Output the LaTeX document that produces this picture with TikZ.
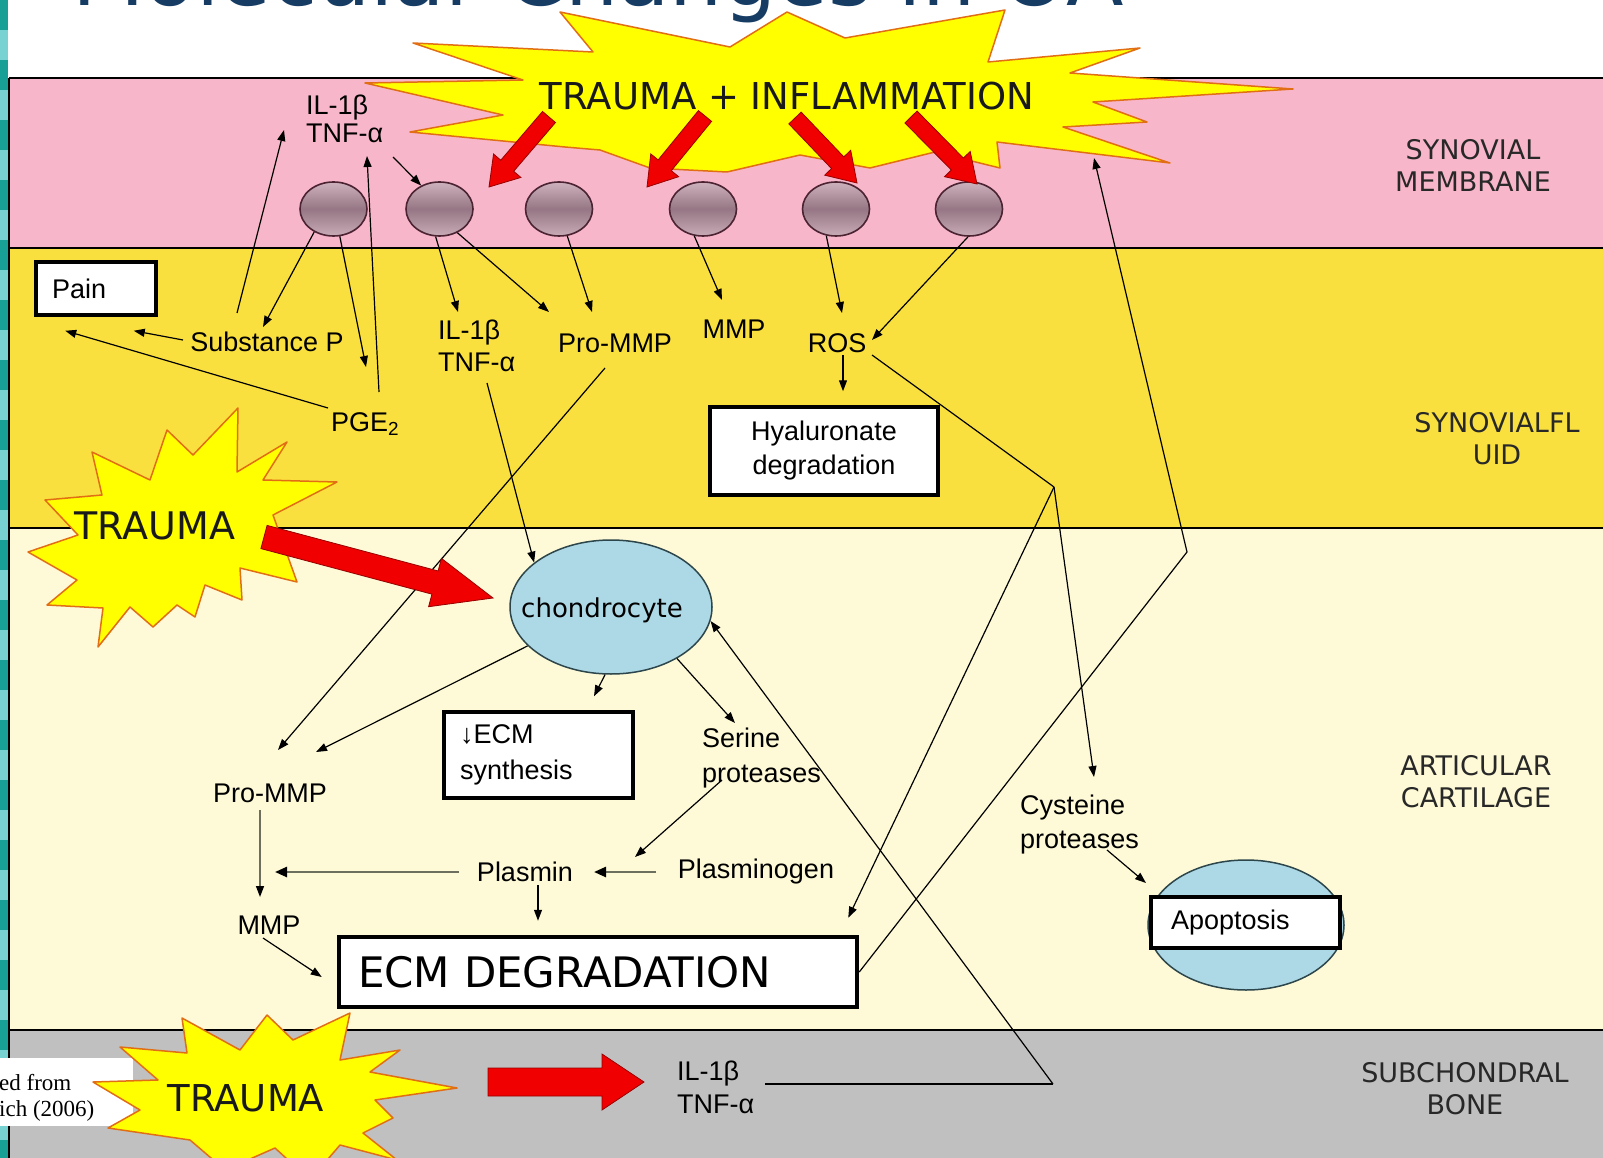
\documentclass[tikz,border=0pt]{standalone}
\usepackage{fontspec}
\setmainfont{Liberation Sans}
\newfontfamily\dejavu{DejaVu Sans}
\newfontfamily\serifA{Liberation Serif}
\usetikzlibrary{arrows.meta,calc,shapes.geometric}

\definecolor{pinkband}{RGB}{248,182,202}
\definecolor{yellowband}{RGB}{250,224,62}
\definecolor{creamband}{RGB}{254,250,215}
\definecolor{grayband}{RGB}{192,192,192}
\definecolor{starfill}{RGB}{255,255,0}
\definecolor{starline}{RGB}{225,110,20}
\definecolor{arrowred}{RGB}{240,0,0}
\definecolor{arrowdark}{RGB}{150,0,0}
\definecolor{cellline}{RGB}{75,35,50}
\definecolor{celltop}{RGB}{205,178,188}
\definecolor{cellmid}{RGB}{150,118,132}
\definecolor{cellbot}{RGB}{200,172,182}
\definecolor{chondfill}{RGB}{173,216,230}
\definecolor{chondline}{RGB}{45,70,75}
\definecolor{titleblue}{RGB}{22,60,100}
\definecolor{tealA}{RGB}{25,160,150}
\definecolor{tealB}{RGB}{120,210,210}
\definecolor{conngray}{RGB}{110,110,95}
\definecolor{regtext}{RGB}{40,40,40}

\newcommand\labfont{\fontsize{27}{28}\selectfont}
\newcommand\regfont{\dejavu\fontsize{27}{32}\selectfont}
\newcommand\blockarrow[5]{%
  \coordinate (ba-h) at ($(#2)!#5!(#1)$);
  \draw[redarrow] ($(#1)!#3!90:(#2)$) -- ($(ba-h)!#3!90:(#2)$) -- ($(ba-h)!#4!90:(#2)$) -- (#2) -- ($(ba-h)!#4!-90:(#2)$) -- ($(ba-h)!#3!-90:(#2)$) -- ($(#1)!#3!-90:(#2)$) -- cycle;}

\begin{document}
\begin{tikzpicture}[x=1pt,y=-1pt,
  lab/.style={font=\labfont, inner sep=2pt},
  lab2/.style={lab, align=left},
  region/.style={font=\regfont, align=center, text=regtext, inner sep=0pt},
  box/.style={draw=black, line width=3.5pt, fill=white, font=\labfont, inner sep=0pt},
  cell/.style={ellipse, minimum width=67pt, minimum height=54pt, inner sep=0pt, draw=cellline, line width=1.6pt, top color=celltop, bottom color=cellbot, middle color=cellmid},
  starstyle/.style={fill=starfill, draw=starline, line width=1.5pt, line join=round},
  redarrow/.style={fill=arrowred, draw=arrowdark, line width=0.8pt, line join=miter},
  conn/.style={draw=black, line width=1.2pt},
  arr/.style={conn, -{Triangle[length=11pt,width=8pt]}},
  garr/.style={draw=conngray, line width=2.4pt, -{Triangle[length=12pt,width=10pt,color=black]}},
  garr2/.style={draw=conngray, line width=1.5pt, -{Triangle[length=11pt,width=8pt,color=black]}},
  bandline/.style={draw=black, line width=1.8pt}]

\useasboundingbox (0,0) rectangle (1603,1158);
\clip (0,0) rectangle (1603,1158);
\fill[white] (0,0) rectangle (1603,1158);

% title (cut off at top, as in the slide)
\node[anchor=base west, inner sep=0pt, font=\dejavu\fontsize{84}{90}\selectfont, text=titleblue] (title) at (72,6) {Molecular Changes in OA};

% bands
\fill[pinkband] (9,78) rectangle (1610,248);
\fill[yellowband] (9,248) rectangle (1610,528);
\fill[creamband] (9,528) rectangle (1610,1030);
\fill[grayband] (9,1030) rectangle (1610,1165);
\draw[bandline] (9,78) -- (1610,78);
\draw[bandline] (9,248) -- (1610,248);
\draw[bandline] (9,528) -- (1610,528);
\draw[bandline] (9,1030) -- (1610,1030);
\draw[bandline] (9,78) -- (9,1165);

% left slide strip
\foreach \i in {0,...,38}{%
  \pgfmathtruncatemacro\m{mod(\i,2)}%
  \ifnum\m=0 \fill[tealA] (0,\i*30) rectangle (8,\i*30+30);
  \else \fill[tealB] (0,\i*30) rectangle (8,\i*30+30); \fi}

% reference note box
\fill[white] (0,1058) rectangle (133,1126);
\node[anchor=west, inner sep=0pt, font=\serifA\fontsize{23}{25}\selectfont] (ref1) at (-1,1083) {ed from};
\node[anchor=west, inner sep=0pt, font=\serifA\fontsize{23}{25}\selectfont] (ref2) at (-1,1111) {ich (2006)};

% top starburst
\draw[starstyle] (413,43) -- (593,52) -- (560,12) -- (730,47) -- (787,12) -- (845,38) -- (1005,10) -- (988,62) -- (1140,48) -- (1070,73) -- (1293,89) -- (1093,102) -- (1147,122) -- (1063,127) -- (1170,163) -- (997,142) -- (1000,168) -- (935,152) -- (870,168) -- (800,155) -- (727,172) -- (650,168) -- (600,150) -- (565,147) -- (410,132) -- (503,115) -- (365,83) -- (523,80) -- cycle;
\node[font=\dejavu\fontsize{37}{40}\selectfont, text=black!90, inner sep=0pt] (ti) at (787,96) {TRAUMA + INFLAMMATION};

% cells in synovial membrane
\node[cell] (c1) at (333.5,209) {};
\node[cell] (c2) at (439.5,209) {};
\node[cell] (c3) at (559,209) {};
\node[cell] (c4) at (703,209) {};
\node[cell] (c5) at (836,209) {};
\node[cell] (c6) at (969,209) {};

% red arrows from the starburst
\coordinate (r1s) at (549,117); \coordinate (r1e) at (489,187);
\coordinate (r2s) at (705,116); \coordinate (r2e) at (647,187);
\coordinate (r3s) at (795,118); \coordinate (r3e) at (857,183);
\coordinate (r4s) at (911,117); \coordinate (r4e) at (977,184);
\blockarrow{r1s}{r1e}{8.5pt}{18pt}{28pt}
\blockarrow{r2s}{r2e}{8.5pt}{18pt}{28pt}
\blockarrow{r3s}{r3e}{8.5pt}{18pt}{28pt}
\blockarrow{r4s}{r4e}{8.5pt}{18pt}{28pt}

% labels
\node[lab2, anchor=west] (IL1m) at (304,119) {IL-1β\\TNF-α};
\node[lab] (subP) at (267,342) {Substance P};
\node[lab, anchor=base west] (PGE) at (329,431) {PGE\textsubscript{2}};
\node[box, minimum width=120pt, minimum height=53pt, text width=88pt, inner xsep=16pt, align=left] (pain) at (96,288.5) {Pain};
\node[lab2, anchor=west, font=\fontsize{27}{32}\selectfont] (IL1y) at (436,346) {IL-1β\\TNF-α};
\node[lab] (proMMPy) at (615,343) {Pro-MMP};
\node[lab] (MMPy) at (734,329) {MMP};
\node[lab] (ROS) at (837,343) {ROS};
\node[box, minimum width=228pt, minimum height=88pt, align=center, font=\fontsize{27}{34}\selectfont] (hyal) at (824,451) {Hyaluronate\\degradation};

\node[ellipse, draw=chondline, line width=1.5pt, fill=chondfill, minimum width=202pt, minimum height=134pt, inner sep=0pt] (chond) at (611,607) {};
\node[inner sep=0pt, font=\dejavu\fontsize{26}{30}\selectfont] (chondtxt) at ([shift={(-9,3)}]chond.center) {chondrocyte};
\node[lab] (proMMPc) at (270,793) {Pro-MMP};
\node[box, minimum width=189pt, minimum height=86pt, text width=157pt, inner xsep=16pt, align=left, font=\fontsize{27}{36}\selectfont] (ecmsyn) at (538.5,755) {↓ECM\\synthesis};
\node[lab2, anchor=west, font=\fontsize{27}{35}\selectfont] (serine) at (700,758) {Serine\\proteases};
\node[lab] (plasmin) at (525,872) {Plasmin};
\node[lab] (plasminogen) at (756,872) {Plasminogen};
\node[lab] (MMPc) at (269,925) {MMP};
\node[box, line width=4.5pt, minimum width=518pt, minimum height=70pt, text width=480pt, inner xsep=19pt, align=left, font=\dejavu\fontsize{42}{46}\selectfont] (ecmdeg) at (598,972) {ECM DEGRADATION};
\node[lab2, anchor=west, font=\fontsize{27}{34}\selectfont] (cyst) at (1018,825) {Cysteine\\proteases};
\node[ellipse, draw=chondline, line width=1.5pt, fill=chondfill, minimum width=196pt, minimum height=130pt, inner sep=0pt] (apop) at (1246,925) {};
\node[box, line width=4.5pt, minimum width=189pt, minimum height=51pt, text width=149pt, inner xsep=20pt, align=left] (apopbox) at (1245.5,922.5) {Apoptosis};
\node[lab2, anchor=west, font=\fontsize{27}{33}\selectfont] (IL1b) at (675,1087) {IL-1β\\TNF-α};

% region labels
\node[region] (rsm) at (1473,165) {SYNOVIAL\\MEMBRANE};
\node[region] (rsf) at (1497,439) {SYNOVIALFL\\UID};
\node[region] (rac) at (1476,782) {ARTICULAR\\CARTILAGE};
\node[region] (rsb) at (1465,1089) {SUBCHONDRAL\\BONE};

% connectors
\draw[arr] ([shift={(-30,-29)}]subP.center) -- ([shift={(-20,11)}]IL1m.west);
\draw[arr] (c1.230) -- ([shift={(-4,-15)}]subP.center);
\draw[arr] (c1.283) -- ([shift={(37,-64)}]PGE.base west);
\draw[arr] ([shift={(50,-39)}]PGE.base west) -- ([shift={(63,37)}]IL1m.west);
\draw[arr] ([shift={(89,38)}]IL1m.west) -- (c2.128);
\draw[arr] (c2.262) -- ([shift={(22,-34)}]IL1y.west);
\draw[arr] (c2.307) -- ([shift={(-66,-31)}]proMMPy.center);
\draw[arr] (c3.287) -- ([shift={(-23,-31)}]proMMPy.center);
\draw[arr] (c4.252) -- ([shift={(-12,-29)}]MMPy.center);
\draw[arr] (c5.250) -- ([shift={(5,-30)}]ROS.center);
\draw[arr] (c6.268) -- ([shift={(35,-3)}]ROS.center);
\draw[arr] ([shift={(6,12)}]ROS.center) -- ([shift={(19,-14)}]hyal.north);
\draw[arr] ([shift={(-84,-2)}]subP.center) -- ([shift={(-24,14)}]pain.south east);
\draw[arr] ([shift={(-1,-23)}]PGE.base west) -- ([shift={(31,14)}]pain.south west);
\draw[arr] ([shift={(51,37)}]IL1y.west) -- (chond.150);
\draw[arr] ([shift={(-10,25)}]proMMPy.center) -- ([shift={(8,-43)}]proMMPc.center);
\draw[arr] (chond.205) -- ([shift={(46,-41)}]proMMPc.center);
\draw[arr] (chond.265) -- ([shift={(55.5,-14)}]ecmsyn.north);
\draw[arr] (chond.322) -- ([shift={(35,-35)}]serine.west);
\draw[arr] ([shift={(22,22)}]serine.west) -- ([shift={(110,-15)}]plasmin.center);
\draw[garr] ([shift={(-100,0)}]plasminogen.center) -- ([shift={(69,0)}]plasmin.center);
\draw[garr] ([shift={(-66,0)}]plasmin.center) -- ([shift={(6,-53)}]MMPc.center);
\draw[garr2] ([shift={(-10,17)}]proMMPc.center) -- ([shift={(-9,-28)}]MMPc.center);
\draw[arr] ([shift={(13,13)}]plasmin.center) -- ([shift={(-60,-14)}]ecmdeg.north);
\draw[arr] ([shift={(-6,13)}]MMPc.center) -- ([shift={(-15,5)}]ecmdeg.west);
\coordinate (J) at (1054,487);
\draw[conn] ([shift={(35,12)}]ROS.center) -- (J);
\draw[arr] (J) -- ([shift={(-11,-17)}]ecmdeg.north east);
\draw[arr] (J) -- ([shift={(76,-48)}]cyst.west);
\draw[arr] ([shift={(89,25)}]cyst.west) -- ([shift={(128,58)}]cyst.west);
\coordinate (K) at (1187,552);
\coordinate (M) at (1094,158);
\draw[arr] (ecmdeg.east) -- (K) -- (M);
\coordinate (L) at (1053,1084);
\draw[conn, line width=2pt] ([shift={(90,-3)}]IL1b.west) -- (L);
\draw[arr] (L) -- (chond.352);

% left trauma starburst and arrow
\draw[starstyle] (238,408) -- (237,472) -- (287,442) -- (263,480) -- (337,482) -- (273,515) -- (297,582) -- (240,568) -- (242,600) -- (205,585) -- (195,617) -- (177,605) -- (153,627) -- (130,607) -- (98,647) -- (103,608) -- (47,605) -- (77,580) -- (28,552) -- (78,535) -- (45,500) -- (102,495) -- (92,452) -- (150,480) -- (167,430) -- (193,455) -- cycle;
\node[font=\dejavu\fontsize{38}{40}\selectfont, text=black!90, inner sep=0pt] (tl) at (155,526) {TRAUMA};
\coordinate (r5s) at (264,537); \coordinate (r5e) at (493,598);
\blockarrow{r5s}{r5e}{12pt}{25pt}{60pt}

% bottom trauma starburst and arrow
\draw[starstyle] (267,1015) -- (293,1040) -- (350,1013) -- (340,1060) -- (400,1050) -- (370,1072) -- (457,1088) -- (375,1100) -- (393,1118) -- (363,1133) -- (397,1160) -- (340,1145) -- (310,1180) -- (275,1148) -- (225,1170) -- (190,1140) -- (108,1128) -- (140,1110) -- (93,1082) -- (158,1080) -- (120,1047) -- (187,1053) -- (182,1018) -- (240,1050) -- cycle;
\node[font=\dejavu\fontsize{37}{40}\selectfont, text=black!90, inner sep=0pt] (tb) at (246,1098) {TRAUMA};
\coordinate (r6s) at (488,1082); \coordinate (r6e) at (644,1082);
\blockarrow{r6s}{r6e}{14pt}{28pt}{42pt}

\end{tikzpicture}
\end{document}
